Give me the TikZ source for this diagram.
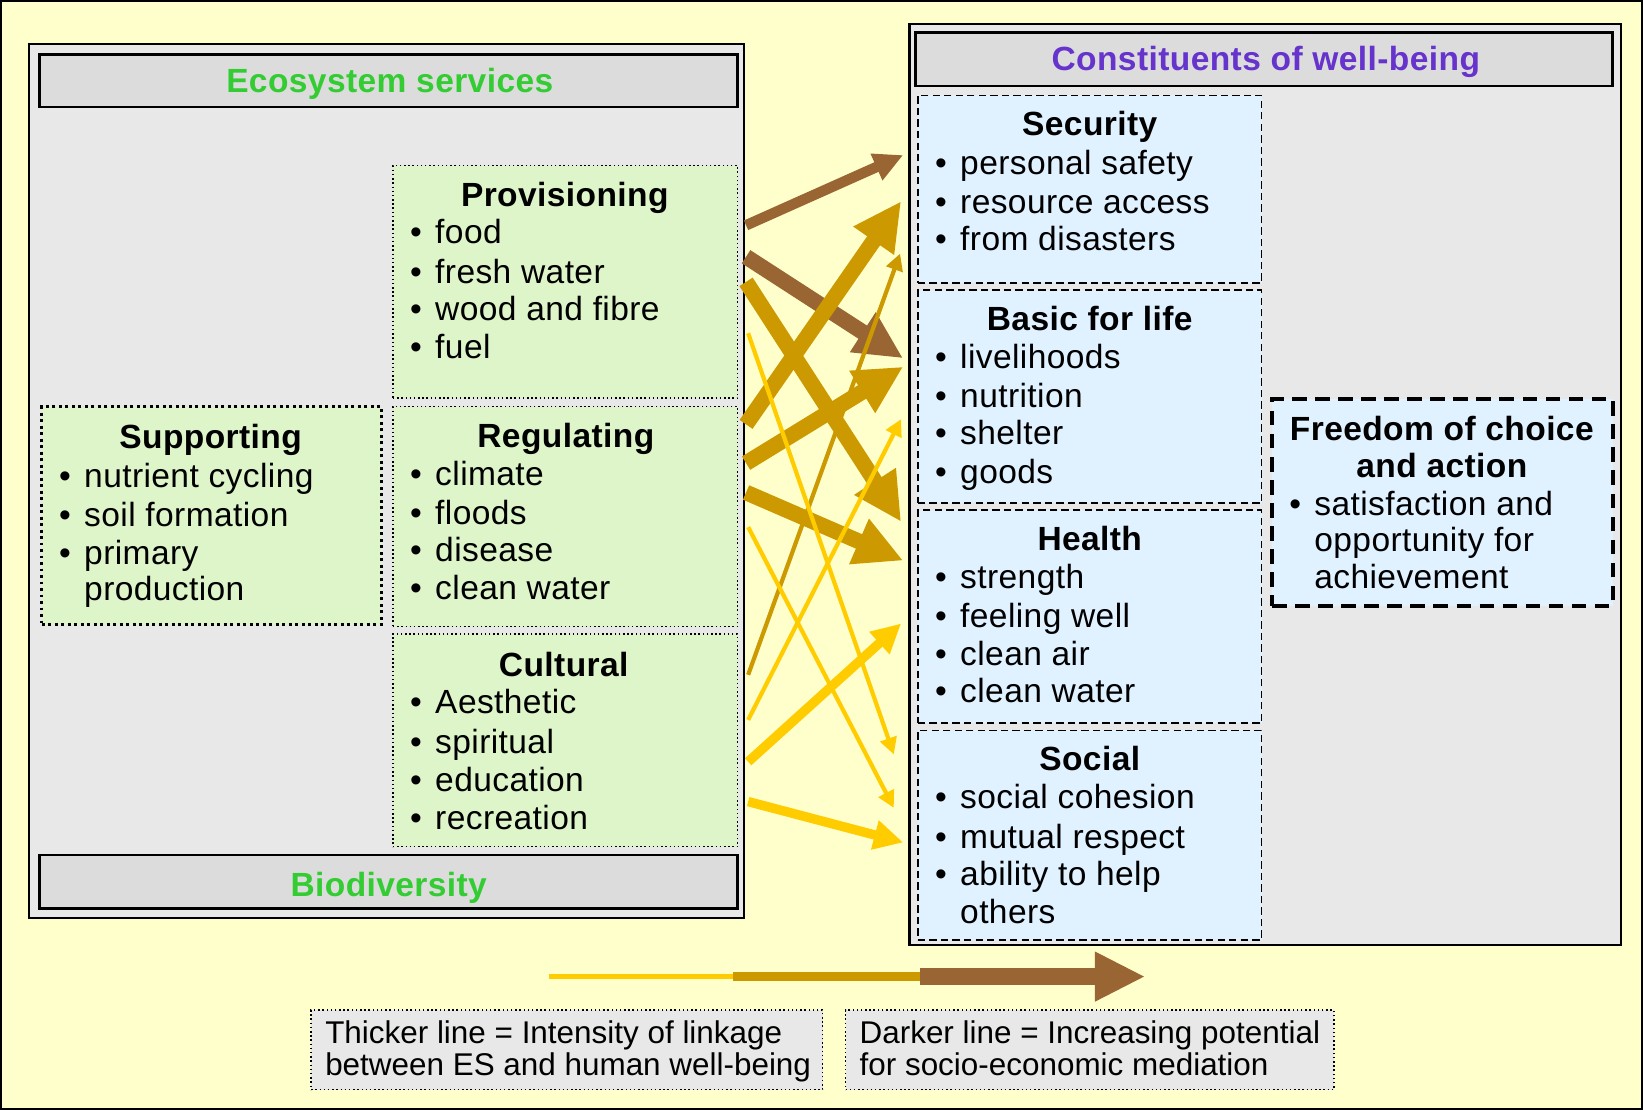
\documentclass[tikz,border=0pt]{standalone}
\usepackage{fontspec}
\setmainfont{Liberation Sans}[LetterSpace=1.2]
\newfontfamily\legendfont{Liberation Sans}
\usetikzlibrary{arrows.meta,fit}
\definecolor{bgyellow}{HTML}{FFFFCC}
\definecolor{panelgray}{HTML}{E8E8E8}
\definecolor{headgray}{HTML}{DCDCDC}
\definecolor{svcgreen}{HTML}{DDF5C9}
\definecolor{wbblue}{HTML}{E0F2FF}
\definecolor{titlegreen}{HTML}{33CC33}
\definecolor{titlepurple}{HTML}{6633CC}
\definecolor{cbrown}{HTML}{996633}
\definecolor{cgold}{HTML}{CC9900}
\definecolor{cyellow}{HTML}{FFCC00}
\newcommand\bul{\makebox[12pt][l]{•}}
\begin{document}
\begin{tikzpicture}[x=0.5pt,y=-0.5pt,
  panel/.style={draw=black, line width=1.1pt, fill=panelgray, inner sep=0pt},
  header/.style={draw=black, line width=1.3pt, fill=headgray, inner sep=0pt},
  svcbox/.style={draw=black, line width=0.7pt, dash pattern=on 0.7pt off 1.3pt, fill=svcgreen, inner sep=0pt},
  suppbox/.style={draw=black, line width=1.4pt, dash pattern=on 1.4pt off 1.7pt, fill=svcgreen, inner sep=0pt},
  wbbox/.style={draw=black, line width=0.8pt, dash pattern=on 3.5pt off 2pt, fill=wbblue, inner sep=0pt},
  freebox/.style={draw=black, line width=2pt, dash pattern=on 7pt off 4pt, fill=wbblue, inner sep=0pt},
  legbox/.style={draw=black, line width=0.7pt, dash pattern=on 0.7pt off 1.3pt, fill=panelgray, inner sep=0pt},
  ttl/.style={font=\fontsize{16}{18}\selectfont\bfseries, anchor=mid, inner sep=0pt},
  itm/.style={font=\fontsize{16}{18}\selectfont, anchor=mid west, inner sep=0pt},
  legtxt/.style={font=\legendfont\fontsize{15}{15}\selectfont, anchor=mid west, inner sep=0pt},
  bigbrown/.style={draw=cbrown, line width=7.5pt, -{Triangle[length=23pt,width=21pt]}},
  midbrown/.style={draw=cbrown, line width=5pt, -{Triangle[length=14pt,width=13pt]}},
  biggold/.style={draw=cgold, line width=7.5pt, -{Triangle[length=23pt,width=22pt]}},
  thingold/.style={draw=cgold, line width=2pt, -{Triangle[length=8pt,width=8pt]}},
  thinyellow/.style={draw=cyellow, line width=2pt, -{Triangle[length=8pt,width=8pt]}},
  midyellow/.style={draw=cyellow, line width=4.5pt, -{Triangle[length=14pt,width=13.5pt]}}
]
\fill[bgyellow] (0,0) rectangle (1568,1059);
\useasboundingbox (0,0) rectangle (1568,1059);
\draw[line width=1pt] (1,1) rectangle (1567,1058);

% ---------- left panel ----------
\node[panel, fit={(28,42) (710,876)}] (espanel) {};
\node[header, fit={(38,52) (704,102)}] (eshead) {};
\node[ttl, text=titlegreen] (estitle) at (372,83) {Ecosystem services};
\node[header, fit={(38,816) (704,867)}] (biohead) {};
\node[ttl, text=titlegreen] (biotitle) at (371,850) {Biodiversity};

\node[svcbox, fit={(375,158) (704,380)}] (prov) {};
\node[svcbox, fit={(375,388) (704,598)}] (reg) {};
\node[svcbox, fit={(375,605) (704,808)}] (cult) {};
\node[suppbox, fit={(40,388) (364,596)}] (supp) {};

\node[ttl] (provt) at (539,192) {Provisioning};
\node[itm] (prov1) at (391,227) {\bul food};
\node[itm] (prov2) at (391,265) {\bul fresh water};
\node[itm] (prov3) at (391,301) {\bul wood and fibre};
\node[itm] (prov4) at (391,337) {\bul fuel};

\node[ttl] (regt) at (540,422) {Regulating};
\node[itm] (reg1) at (391,458) {\bul climate};
\node[itm] (reg2) at (391,495) {\bul floods};
\node[itm] (reg3) at (391,531) {\bul disease};
\node[itm] (reg4) at (391,567) {\bul clean water};

\node[ttl] (cultt) at (538,640) {Cultural};
\node[itm] (cult1) at (391,676) {\bul Aesthetic};
\node[itm] (cult2) at (391,714) {\bul spiritual};
\node[itm] (cult3) at (391,750) {\bul education};
\node[itm] (cult4) at (391,786) {\bul recreation};

\node[ttl] (suppt) at (201,423) {Supporting};
\node[itm] (supp1) at (56,460) {\bul nutrient cycling};
\node[itm] (supp2) at (56,497) {\bul soil formation};
\node[itm] (supp3) at (56,533) {\bul primary};
\node[itm] (supp4) at (80,568) {production};

% ---------- right panel ----------
\node[panel, fit={(868,23) (1547,902)}] (wbpanel) {};
\node[header, fit={(874,31) (1539,82)}] (wbhead) {};
\node[ttl, text=titlepurple] (wbtitle) at (1208,62) {Constituents of well-being};

\node[wbbox, fit={(876,91) (1204,270)}] (sec) {};
\node[wbbox, fit={(876,277) (1204,480)}] (basic) {};
\node[wbbox, fit={(876,487) (1204,690)}] (health) {};
\node[wbbox, fit={(876,697) (1204,897)}] (social) {};
\node[freebox, fit={(1214,381) (1539,578)}] (free) {};

\node[ttl] (sect) at (1040,124) {Security};
\node[itm] (sec1) at (892,161) {\bul personal safety};
\node[itm] (sec2) at (892,198) {\bul resource access};
\node[itm] (sec3) at (892,234) {\bul from disasters};

\node[ttl] (basict) at (1040,310) {Basic for life};
\node[itm] (basic1) at (892,346) {\bul livelihoods};
\node[itm] (basic2) at (892,384) {\bul nutrition};
\node[itm] (basic3) at (892,419) {\bul shelter};
\node[itm] (basic4) at (892,456) {\bul goods};

\node[ttl] (healtht) at (1040,520) {Health};
\node[itm] (health1) at (892,556) {\bul strength};
\node[itm] (health2) at (892,594) {\bul feeling well};
\node[itm] (health3) at (892,630) {\bul clean air};
\node[itm] (health4) at (892,665) {\bul clean water};

\node[ttl] (socialt) at (1040,730) {Social};
\node[itm] (social1) at (892,766) {\bul social cohesion};
\node[itm] (social2) at (892,804) {\bul mutual respect};
\node[itm] (social3) at (892,840) {\bul ability to help};
\node[itm] (social4) at (916,876) {others};

\node[ttl] (freet1) at (1376,415) {Freedom of choice};
\node[ttl] (freet2) at (1376,450) {and action};
\node[itm] (free1) at (1230,487) {\bul satisfaction and};
\node[itm] (free2) at (1254,521) {opportunity for};
\node[itm] (free3) at (1254,556) {achievement};

% ---------- linkage arrows ----------
\coordinate (s1) at (712,215);  \coordinate (e1) at (862,148);
\coordinate (s2) at (712,245);  \coordinate (e2) at (862,342);
\coordinate (s3) at (712,269);  \coordinate (e3) at (860,498);
\coordinate (s4) at (712,405);  \coordinate (e4) at (860,192);
\coordinate (s5) at (712,442);  \coordinate (e5) at (862,350);
\coordinate (s6) at (712,470);  \coordinate (e6) at (862,535);
\coordinate (s7) at (714,318);  \coordinate (e7) at (853,720);
\coordinate (s8) at (714,644);  \coordinate (e8) at (859,242);
\coordinate (s9) at (714,503);  \coordinate (e9) at (853,771);
\coordinate (s10) at (714,687); \coordinate (e10) at (860,400);
\coordinate (s11) at (714,727); \coordinate (e11) at (860,595);
\coordinate (s12) at (714,765); \coordinate (e12) at (862,804);

\draw[midbrown] (s1) -- (e1);
\draw[bigbrown] (s2) -- (e2);
\draw[biggold] (s3) -- (e3);
\draw[biggold] (s4) -- (e4);
\draw[biggold] (s5) -- (e5);
\draw[biggold] (s6) -- (e6);
\draw[thingold] (s8) -- (e8);
\draw[thinyellow] (s7) -- (e7);
\draw[thinyellow] (s9) -- (e9);
\draw[thinyellow] (s10) -- (e10);
\draw[midyellow] (s11) -- (e11);
\draw[midyellow] (s12) -- (e12);

% ---------- legend ----------
\coordinate (l0) at (524,932);
\coordinate (l1) at (700,932);
\coordinate (l2) at (878,932);
\coordinate (l3) at (1093,932);
\draw[draw=cyellow, line width=2.2pt] (l0) -- (l1);
\draw[draw=cgold, line width=4.5pt] (l1) -- (l2);
\draw[draw=cbrown, line width=8pt, -{Triangle[length=24pt,width=22pt]}] (l2) -- (l3);

\node[legbox, fit={(297,964) (785,1040)}] (leg1) {};
\node[legbox, fit={(807,964) (1273,1040)}] (leg2) {};
\node[legtxt] (leg1a) at (310,991) {Thicker line = Intensity of linkage};
\node[legtxt] (leg1b) at (310,1021) {between ES and human well-being};
\node[legtxt] (leg2a) at (820,991) {Darker line = Increasing potential};
\node[legtxt] (leg2b) at (820,1021) {for socio-economic mediation};
\end{tikzpicture}
\end{document}
